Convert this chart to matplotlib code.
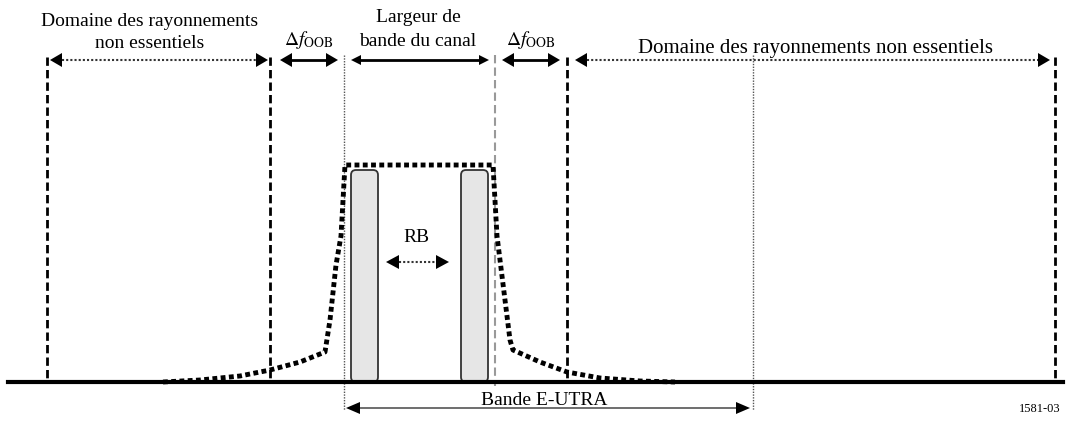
import numpy as np
import matplotlib.pyplot as plt
from matplotlib.patches import FancyBboxPatch

plt.rcParams['font.family'] = ['Liberation Serif', 'DejaVu Serif']
plt.rcParams['mathtext.fontset'] = 'stix'

# --- picture coordinates (pixels, y down)
W, H = 1067, 421
base_y = 382

# black dashed limits (spurious domain / OOB)
dash_x = [47, 270, 567, 1055]
# thin dotted limits (channel / E-UTRA band)
dot_x = [344, 753]
dot_bottom = [410, 410]
grey_dash_x = 495

# top arrows: (x0, x1, style)
arrows_top = [(50, 268, 'dot'), (280, 338, 'solid'), (351, 489, 'thin'),
              (502, 560, 'solid'), (575, 1050, 'dot')]
arrow_y = 60

# emission mask outline
mask_x = [163, 200, 240, 270, 300, 325, 330, 336, 341, 345, 493, 497, 505, 510, 513,
          540, 567, 600, 640, 675]
mask_y = [382, 380, 376, 370, 362, 352, 320, 265, 236, 165, 165, 236, 300, 340, 350,
          362, 372, 378, 381, 382]

# resource blocks
rb_x = [351, 461]
rb_w = 27
rb_top = 170

fig = plt.figure(figsize=(W / 100, H / 100), dpi=100)
ax = fig.add_axes([0, 0, 1, 1])
ax.set_xlim(0, W)
ax.set_ylim(H, 0)
ax.axis('off')

# RB blocks
for x in rb_x:
    p = FancyBboxPatch((x + 4, rb_top + 4), rb_w - 8, base_y - rb_top - 8,
                       boxstyle='round,pad=4,rounding_size=5',
                       fc='#e6e6e6', ec='#333333', lw=1.3, zorder=2)
    ax.add_patch(p)

# baseline
ax.plot([8, 1063], [base_y, base_y], color='black', lw=3, zorder=4)

# vertical lines
for x in dash_x:
    ax.plot([x, x], [57, base_y], color='black', lw=2, ls=(0, (3, 1.5)), zorder=3)
for x, yb in zip(dot_x, dot_bottom):
    ax.plot([x, x], [55, yb], color='#555555', lw=1, ls=(0, (1, 1)), zorder=3)
ax.plot([grey_dash_x, grey_dash_x], [55, 386], color='#999999', lw=1.5,
        ls=(0, (4, 2)), zorder=3)

# mask
ax.plot(mask_x, mask_y, color='black', lw=3.5, ls=(0, (1, 0.7)), zorder=5)


def arrow(x0, x1, y, style, hw=7, hl=12):
    if style == 'dot':
        ax.plot([x0 + hl, x1 - hl], [y, y], color='#333333', lw=1.5,
                ls=(0, (1, 1)), zorder=5)
    elif style == 'thin':
        ax.plot([x0 + 6, x1 - 6], [y, y], color='black', lw=2, zorder=5)
        hw, hl = 5, 10
    elif style == 'grey':
        ax.plot([x0 + 6, x1 - 6], [y, y], color='#555555', lw=1.2, zorder=5)
        hw, hl = 6, 14
    else:
        ax.plot([x0 + 6, x1 - 6], [y, y], color='black', lw=2, zorder=5)
    for xa, d in ((x0, 1), (x1, -1)):
        ax.fill([xa, xa + d * hl, xa + d * hl], [y, y - hw, y + hw],
                color='black', lw=0, zorder=6)


for x0, x1, st in arrows_top:
    arrow(x0, x1, arrow_y, st)

arrow(386, 449, 262, 'dot', hw=7, hl=13)
arrow(346, 750, 408, 'grey')

fs = 14
ax.text(150, 21, 'Domaine des rayonnements', ha='center', va='center', fontsize=fs)
ax.text(150, 44, 'non essentiels', ha='center', va='center', fontsize=fs)
ax.text(418, 18, 'Largeur de', ha='center', va='center', fontsize=fs)
ax.text(418, 41, 'bande du canal', ha='center', va='center', fontsize=fs)
ax.text(309, 40, r'$\Delta f_{\mathrm{OOB}}$', ha='center', va='center', fontsize=fs)
ax.text(531, 40, r'$\Delta f_{\mathrm{OOB}}$', ha='center', va='center', fontsize=fs)
ax.text(815, 53, 'Domaine des rayonnements non essentiels', ha='center', va='baseline',
        fontsize=15)
ax.text(416, 238, 'RB', ha='center', va='center', fontsize=fs)
ax.text(544, 405, 'Bande E-UTRA', ha='center', va='baseline', fontsize=fs)
ax.text(1040, 409, '1581-03', ha='center', va='center', fontsize=9)

fig.savefig('out.png', dpi=100)
